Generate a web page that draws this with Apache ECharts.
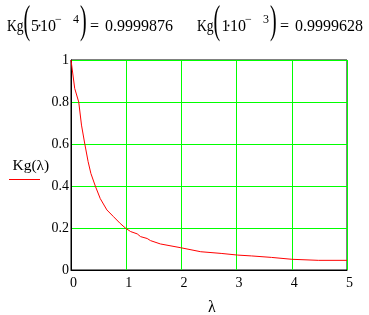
<!DOCTYPE html>
<html><head><meta charset="utf-8">
<script src="https://cdn.jsdelivr.net/npm/echarts@6/dist/echarts.min.js"></script>
<style>html,body{margin:0;padding:0;background:#fff}#c{width:369px;height:315px}</style>
</head><body><div id="c"></div>
<script>
// Kg(λ)
const lambdaVals = [0, 0.067, 0.14, 0.19, 0.25, 0.31, 0.36, 0.44, 0.53, 0.65, 0.77, 0.89, 0.985, 1.08, 1.2, 1.26, 1.38, 1.44, 1.62, 1.99, 2.35, 2.72, 3.02, 3.27, 3.63, 4.0, 4.48, 5.0];
const kgVals     = [1.0, 0.865, 0.80, 0.69, 0.60, 0.516, 0.46, 0.40, 0.34, 0.286, 0.254, 0.222, 0.20, 0.183, 0.172, 0.159, 0.150, 0.140, 0.124, 0.106, 0.087, 0.079, 0.071, 0.067, 0.060, 0.051, 0.046, 0.046];
const xTicks = [0, 1, 2, 3, 4, 5];
const yTicks = [0, 0.2, 0.4, 0.6, 0.8, 1];
const xName = 'λ';
const yName = 'Kg(λ)';

const F = '"Liberation Serif", "DejaVu Serif", serif';
function t(text, x, y, size, extra) {
  return Object.assign({
    type: 'text', x: x, y: y,
    style: { text: text, font: size + 'px ' + F, fill: '#000', textAlign: 'left', textVerticalAlign: 'middle' }
  }, extra || {});
}
function dot(cx, cy) {
  return { type: 'circle', z: 10, shape: { cx: cx, cy: cy, r: 1 }, style: { fill: '#000' } };
}
const MY = 27, SY = 20, PY = 22, MS = 16, SS = 12, PS = 40;
const P = { scaleX: 0.5 };
const K = { scaleX: 0.85 };
const graphics = [
  t('Kg', 7, MY, MS, K), t('(', 23.5, PY, PS, P), t('5', 31, MY, MS), dot(39.5, 25.5), t('10', 40, MY, MS),
  t('−', 55, SY, SS), t('4', 73, SY, SS), t(')', 80, PY, PS, P), t('=', 90, MY, MS), t('0.9999876', 105, MY, MS),
  t('Kg', 197, MY, MS, K), t('(', 213.5, PY, PS, P), t('1', 221.5, MY, MS), dot(228.5, 25.5), t('10', 230, MY, MS),
  t('−', 245, SY, SS), t('3', 263, SY, SS), t(')', 270, PY, PS, P), t('=', 280, MY, MS), t('0.9999628', 295, MY, MS),
  t(yName, 12.5, 166, 15.5),
  { type: 'text', x: 212, y: 308, style: { text: xName, font: '16px ' + F, fill: '#000', textAlign: 'center', textVerticalAlign: 'middle' } }
];

const chart = echarts.init(document.getElementById('c'), null, { renderer: 'canvas' });
chart.setOption({
  animation: false,
  legend: {
    data: [{ name: yName, icon: 'rect' }], left: 9, top: 179, padding: 0,
    itemWidth: 31, itemHeight: 1, itemGap: 0, formatter: () => '', selectedMode: false,
    textStyle: { fontSize: 1 }
  },
  grid: { left: 71, right: 22, top: 60, bottom: 45, show: true, borderColor: '#000', borderWidth: 1, backgroundColor: 'transparent' },
  xAxis: {
    type: 'value', min: xTicks[0], max: xTicks[xTicks.length - 1], interval: 1,
    axisLine: { show: true, onZero: false, lineStyle: { color: '#000', width: 1 } },
    axisTick: { show: false },
    splitLine: { show: true, lineStyle: { color: '#00ff00', width: 1 } },
    axisLabel: { color: '#000', fontFamily: F, fontSize: 14, margin: 6, padding: [0, 0, 0, 5] }
  },
  yAxis: {
    type: 'value', min: yTicks[0], max: yTicks[yTicks.length - 1], interval: 0.2,
    axisLine: { show: true, onZero: false, lineStyle: { color: '#000', width: 1 } },
    axisTick: { show: false },
    splitLine: { show: true, lineStyle: { color: '#00ff00', width: 1 } },
    axisLabel: { color: '#000', fontFamily: F, fontSize: 14, margin: 2, padding: [4, 0, 0, 0] }
  },
  series: [{
    name: yName, type: 'line', data: lambdaVals.map((v, i) => [v, kgVals[i]]), color: '#ff0000',
    showSymbol: false, lineStyle: { color: '#ff0000', width: 1 }, itemStyle: { color: '#ff0000' }, z: 3
  }],
  graphic: graphics
});
</script></body></html>
